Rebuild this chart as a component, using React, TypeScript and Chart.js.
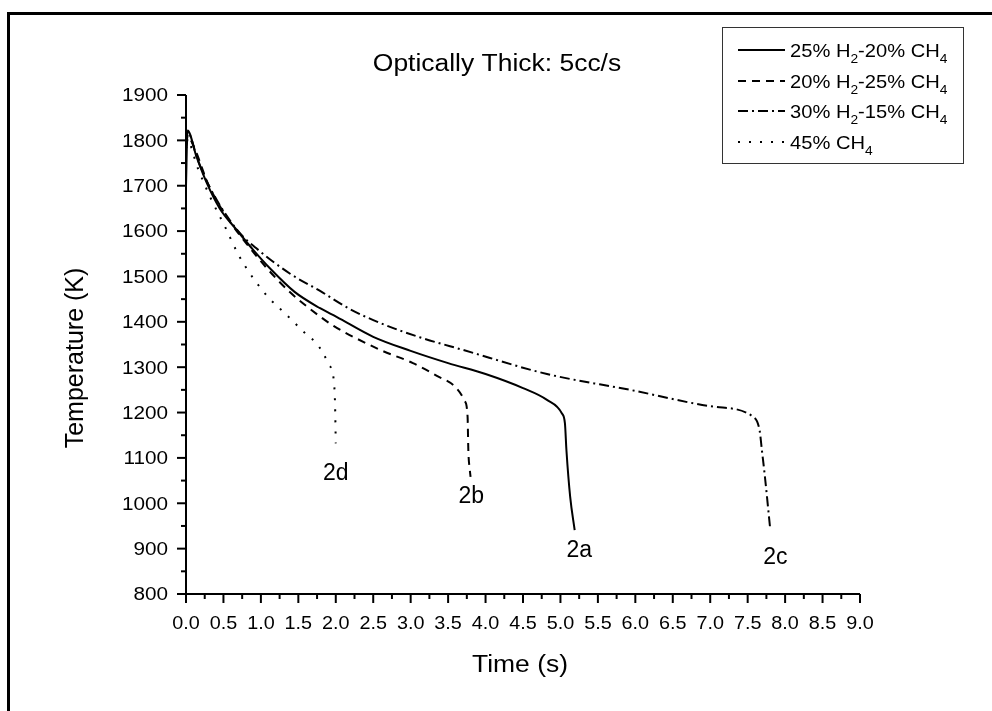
import React, { useEffect, useRef } from "react";
import { Chart, registerables } from "chart.js";

Chart.register(...registerables);

// ---------- data ----------
const chartTitle = "Optically Thick: 5cc/s";
const xAxisTitle = "Time (s)";
const yAxisTitle = "Temperature (K)";

const xTickLabels = ["0.0", "0.5", "1.0", "1.5", "2.0", "2.5", "3.0", "3.5", "4.0", "4.5", "5.0", "5.5", "6.0", "6.5", "7.0", "7.5", "8.0", "8.5", "9.0"];
const yTickLabels = ["800", "900", "1000", "1100", "1200", "1300", "1400", "1500", "1600", "1700", "1800", "1900"];

// 2a: 25% H2-20% CH4 (solid)
const timeA = [0, 0.02, 0.14, 0.28, 0.45, 0.68, 0.9, 1.12, 1.45, 1.79, 2.01, 2.5, 3.0, 3.5, 4.0, 4.5, 4.82, 5.02, 5.06, 5.08, 5.13, 5.19];
const tempA = [1700, 1822, 1764, 1705, 1650, 1602, 1558, 1518, 1466, 1430, 1411, 1367, 1336, 1309, 1285, 1254, 1228, 1198, 1176, 1117, 1014, 941];

// 2b: 20% H2-25% CH4 (dashed)
const timeB = [0, 0.03, 0.12, 0.3, 0.59, 0.81, 1.08, 1.39, 1.66, 1.97, 2.28, 2.61, 3.03, 3.35, 3.61, 3.72, 3.76, 3.77, 3.79, 3.8];
const tempB = [1785, 1806, 1780, 1702, 1620, 1572, 1518, 1465, 1428, 1391, 1363, 1337, 1309, 1281, 1254, 1226, 1191, 1117, 1073, 1058];

// 2c: 30% H2-15% CH4 (dash-dot)
const timeC = [0, 0.03, 0.15, 0.3, 0.68, 0.94, 1.39, 1.79, 2.19, 2.63, 3.12, 3.7, 4.82, 5.93, 7.04, 7.57, 7.66, 7.69, 7.73, 7.8];
const tempC = [1790, 1815, 1760, 1702, 1603, 1562, 1506, 1468, 1428, 1395, 1366, 1338, 1285, 1250, 1213, 1191, 1160, 1117, 1059, 945];

// 2d: 45% CH4 (dotted)
const timeD = [0, 0.03, 0.15, 0.32, 0.52, 0.7, 0.89, 1.1, 1.32, 1.59, 1.74, 1.83, 1.91, 1.97, 1.99, 2.0];
const tempD = [1782, 1795, 1742, 1676, 1610, 1548, 1498, 1454, 1419, 1375, 1353, 1331, 1305, 1276, 1220, 1132];

const seriesLabels = [
  [{ t: "25% H" }, { t: "2", sub: true }, { t: "-20% CH" }, { t: "4", sub: true }],
  [{ t: "20% H" }, { t: "2", sub: true }, { t: "-25% CH" }, { t: "4", sub: true }],
  [{ t: "30% H" }, { t: "2", sub: true }, { t: "-15% CH" }, { t: "4", sub: true }],
  [{ t: "45% CH" }, { t: "4", sub: true }],
];

const noteTexts = ["2d", "2b", "2a", "2c"];
const noteTime = [2.0, 3.81, 5.25, 7.87];
const noteTemp = [1069, 1018, 899, 884];

// ---------- styles ----------
const FONT = '"Liberation Sans", Arial, Helvetica, sans-serif';
const dashes: number[][] = [[], [8, 6], [10, 4, 2, 4], [2, 9]];
const widths = [2, 2, 2, 2];

function toPoints(ts: number[], vs: number[]) {
  return ts.map((t, i) => ({ x: t, y: vs[i] }));
}

function drawText(ctx: CanvasRenderingContext2D, s: string, x: number, y: number, size: number, sx: number, align: CanvasTextAlign, baseline: CanvasTextBaseline) {
  ctx.save();
  ctx.translate(x, y);
  ctx.scale(sx, 1);
  ctx.font = `${size}px ${FONT}`;
  ctx.textAlign = align;
  ctx.textBaseline = baseline;
  ctx.fillStyle = "#000";
  ctx.fillText(s, 0, 0);
  ctx.restore();
}

const overlay = {
  id: "overlay",
  afterDraw(chart: any) {
    const ctx: CanvasRenderingContext2D = chart.ctx;
    const xs = chart.scales.x;
    const ys = chart.scales.y;
    const W = chart.width;
    const H = chart.height;
    ctx.save();
    ctx.fillStyle = "#000";
    ctx.strokeStyle = "#000";

    // outer frame (top & left)
    ctx.fillRect(7, 12, W - 7, 3);
    ctx.fillRect(7, 12, 3, H - 12);

    const x0 = xs.getPixelForValue(0);
    const x9 = xs.getPixelForValue(9);
    const y800 = ys.getPixelForValue(800);
    const y1900 = ys.getPixelForValue(1900);

    // axis lines
    ctx.lineWidth = 2;
    ctx.setLineDash([]);
    ctx.beginPath();
    ctx.moveTo(x0, y800 + 1);
    ctx.lineTo(x0, y1900);
    ctx.moveTo(x0 - 1, y800);
    ctx.lineTo(x9, y800);
    ctx.stroke();

    // x ticks
    xTickLabels.forEach((lab, i) => {
      const v = parseFloat(lab);
      const px = xs.getPixelForValue(v);
      ctx.beginPath();
      ctx.moveTo(px, y800);
      ctx.lineTo(px, y800 + 9);
      ctx.stroke();
      if (i < xTickLabels.length - 1) {
        const pm = xs.getPixelForValue(v + 0.25);
        ctx.beginPath();
        ctx.moveTo(pm, y800);
        ctx.lineTo(pm, y800 + 5);
        ctx.stroke();
      }
      drawText(ctx, lab, px, 629, 18, 1.1, "center", "alphabetic");
    });

    // y ticks
    yTickLabels.forEach((lab, i) => {
      const v = parseFloat(lab);
      const py = ys.getPixelForValue(v);
      ctx.beginPath();
      ctx.moveTo(x0, py);
      ctx.lineTo(x0 - 9, py);
      ctx.stroke();
      if (i < yTickLabels.length - 1) {
        const pm = ys.getPixelForValue(v + 50);
        ctx.beginPath();
        ctx.moveTo(pm === pm ? x0 : x0, pm);
        ctx.lineTo(x0 - 5, pm);
        ctx.stroke();
      }
      drawText(ctx, lab, 168, py + 6.4, 18, 1.15, "right", "alphabetic");
    });

    // titles
    drawText(ctx, chartTitle, 497, 71, 23, 1.15, "center", "alphabetic");
    drawText(ctx, xAxisTitle, 520, 666, 23, 1.15, "center", "middle");
    ctx.save();
    ctx.translate(76, 358);
    ctx.rotate(-Math.PI / 2);
    ctx.font = `25px ${FONT}`;
    ctx.textAlign = "center";
    ctx.textBaseline = "middle";
    ctx.fillText(yAxisTitle, 0, 0);
    ctx.restore();

    // curve notes
    noteTexts.forEach((s, i) => {
      const px = xs.getPixelForValue(noteTime[i]);
      const py = ys.getPixelForValue(noteTemp[i]);
      drawText(ctx, s, px, py + 8.2, 23, 1.0, "center", "alphabetic");
    });

    // legend
    const lx = 722, ly = 27, lw = 241, lh = 136;
    ctx.lineWidth = 1;
    ctx.strokeStyle = "#333";
    ctx.strokeRect(lx + 0.5, ly + 0.5, lw, lh);
    const rows = [50, 81, 111, 142];
    seriesLabels.forEach((segs, i) => {
      const ry = rows[i];
      ctx.save();
      ctx.strokeStyle = "#000";
      ctx.lineWidth = widths[i];
      ctx.setLineDash(dashes[i]);
      ctx.beginPath();
      ctx.moveTo(738, ry);
      ctx.lineTo(785, ry);
      ctx.stroke();
      ctx.restore();
      let cx = 790;
      const base = ry + 7;
      segs.forEach((seg: any) => {
        const size = seg.sub ? 13 : 19;
        const by = seg.sub ? base + 6 : base;
        const sx = 1.06;
        ctx.save();
        ctx.font = `${size}px ${FONT}`;
        const w = ctx.measureText(seg.t).width * sx;
        ctx.restore();
        drawText(ctx, seg.t, cx, by, size, sx, "left", "alphabetic");
        cx += w;
      });
    });
    ctx.restore();
  },
};

export default function App() {
  const ref = useRef<HTMLCanvasElement | null>(null);
  useEffect(() => {
    document.body.style.margin = "0";
    const canvas = ref.current!;
    const mk = (label: string, ts: number[], vs: number[], i: number) => ({
      label,
      data: toPoints(ts, vs),
      borderColor: "#000",
      backgroundColor: "#000",
      borderWidth: widths[i],
      borderDash: dashes[i],
      pointRadius: 0,
      cubicInterpolationMode: "monotone" as const,
      fill: false,
    });
    const chart = new Chart(canvas, {
      type: "line",
      data: {
        datasets: [
          mk("25% H2-20% CH4", timeA, tempA, 0),
          mk("20% H2-25% CH4", timeB, tempB, 1),
          mk("30% H2-15% CH4", timeC, tempC, 2),
          mk("45% CH4", timeD, tempD, 3),
        ],
      },
      options: {
        animation: false,
        responsive: false,
        devicePixelRatio: 1,
        layout: { padding: { left: 186, top: 95, right: 132, bottom: 117 } },
        plugins: { legend: { display: false }, tooltip: { enabled: false }, title: { display: false } },
        scales: {
          x: { type: "linear", min: 0, max: 9, display: false },
          y: { type: "linear", min: 800, max: 1900, display: false },
        },
      },
      plugins: [overlay],
    });
    return () => chart.destroy();
  }, []);
  return (
    <div style={{ position: "fixed", left: 0, top: 0, width: 992, height: 711, background: "#fff" }}>
      <canvas ref={ref} width={992} height={711} />
    </div>
  );
}
